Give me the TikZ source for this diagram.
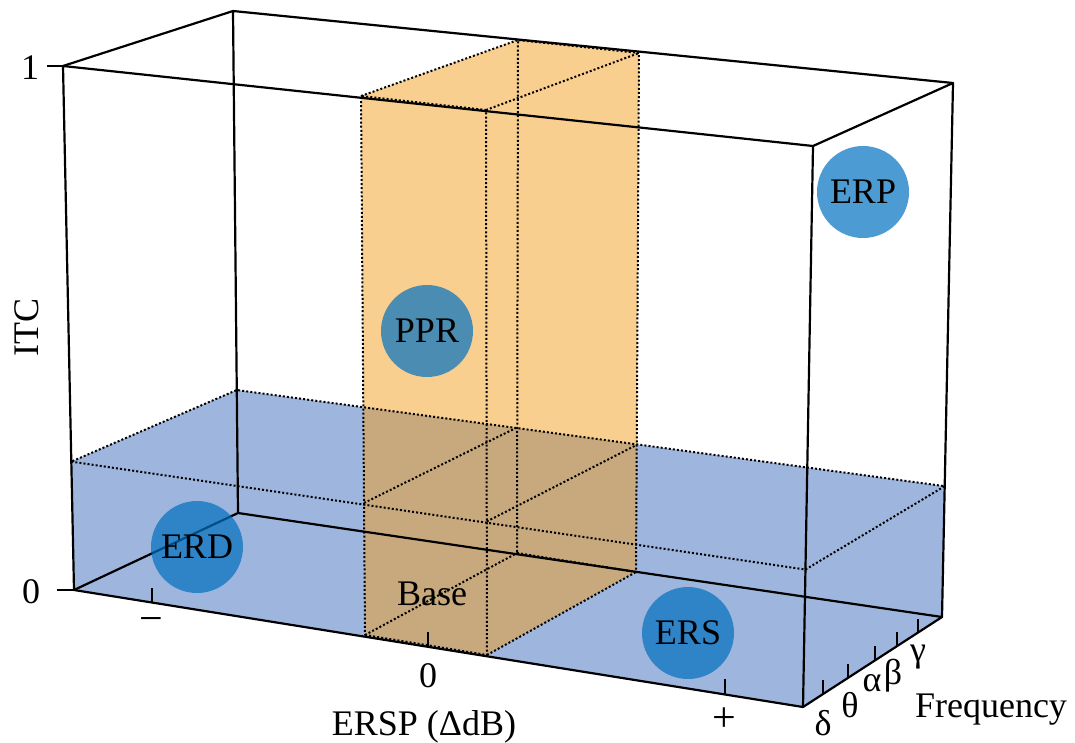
\documentclass[tikz,border=0pt]{standalone}
\usepackage{fontspec}
\setmainfont{Liberation Serif}
\usetikzlibrary{calc}
\definecolor{planeblue}{RGB}{158,181,221}
\definecolor{slaborange}{RGB}{243,159,33}
\definecolor{blobblue}{RGB}{0,112,192}
\tikzset{
  edge/.style={line width=2.2pt, line cap=round, line join=round},
  dots/.style={line width=2pt, dash pattern=on 2pt off 2.1pt},
  tickmark/.style={line width=2.2pt},
  lbl/.style={inner sep=0pt, font=\fontsize{36}{43}\selectfont},
  signlbl/.style={inner sep=0pt, font=\fontsize{42}{48}\selectfont},
  blob/.style={circle, fill=blobblue, fill opacity=0.7, text opacity=1,
    minimum size=92pt, inner sep=0pt, font=\fontsize{36}{43}\selectfont},
}
\begin{document}
\begin{tikzpicture}[x=1pt,y=-1pt]
\useasboundingbox (0,0) rectangle (1075,742);

% corners of the outer box
\coordinate (A) at (74,590);   % front bottom left
\coordinate (B) at (803,707);  % front bottom right
\coordinate (C) at (813,146);  % front top right
\coordinate (D) at (63,66);    % front top left
\coordinate (E) at (238,513);  % back bottom left
\coordinate (F) at (942,617);  % back bottom right
\coordinate (G) at (953,83);   % back top right
\coordinate (H) at (233,11);   % back top left

% top face of the low-ITC layer
\coordinate (P1) at ($(A)!0.245!(D)$);
\coordinate (P2) at ($(B)!0.245!(C)$);
\coordinate (P3) at ($(F)!0.245!(G)$);
\coordinate (P4) at ($(E)!0.245!(H)$);

% corners of the baseline slab around ERSP = 0
\coordinate (SA) at (365,635);
\coordinate (SB) at (487,655);
\coordinate (SC) at (486,110);
\coordinate (SD) at (361,96);
\coordinate (SE) at (517,553);
\coordinate (SF) at (636,572);
\coordinate (SG) at (639,53);
\coordinate (SH) at (518,40);
\coordinate (Q1) at ($(SA)!0.245!(SD)$);
\coordinate (Q2) at ($(SE)!0.245!(SH)$);
\coordinate (Q3) at ($(SB)!0.245!(SC)$);
\coordinate (Q4) at ($(SF)!0.245!(SG)$);

% fills
\fill[planeblue] (A) -- (P1) -- (P4) -- (P3) -- (F) -- (B) -- cycle;
\fill[slaborange, fill opacity=0.5] (SD) -- (SH) -- (SG) -- (SF) -- (SB) -- (SA) -- cycle;

% outer box
\draw[edge] (A) -- (B) -- (C) -- (D) -- cycle;
\draw[edge] (E) -- (F) -- (G) -- (H) -- cycle;
\draw[edge] (A) -- (E) (B) -- (F) (C) -- (G) (D) -- (H);

% dotted layer and slab
\draw[dots] (P1) -- (P2) -- (P3) -- (P4) -- cycle;
\draw[dots] (SA) -- (SB) -- (SC) -- (SD) -- cycle;
\draw[dots] (SE) -- (SF) -- (SG) -- (SH) -- cycle;
\draw[dots] (SA) -- (SE) (SB) -- (SF) (SC) -- (SG) (SD) -- (SH);
\draw[dots] (Q1) -- (Q2) (Q3) -- (Q4);

% ITC ticks
\draw[tickmark] (D) -- ++(-16,0);
\draw[tickmark] (A) -- ++(-17,0);
% ERSP ticks
\coordinate (xm) at ($(A)!0.107!(B)$);
\coordinate (xz) at ($(A)!0.486!(B)$);
\coordinate (xp) at ($(A)!0.893!(B)$);
\foreach \t in {xm,xz,xp} \draw[tickmark] (\t) -- ++(0,-15);
% frequency ticks
\foreach \f/\n in {0.144/f1,0.324/f2,0.518/f3,0.676/f4,0.827/f5}{
  \coordinate (\n) at ($(B)!\f!(F)$);
  \draw[tickmark] (\n) -- ++(0,-14);
}

% axis labels
\node[lbl, anchor=base] (one) at (30,79) {1};
\node[lbl, anchor=base] (zeroy) at (31,603) {0};
\node[lbl, rotate=90] (itc) at (27,327) {ITC};
\node[signlbl] (minus) at (151,625) {−};
\node[lbl, anchor=base] (zerox) at (428,687) {0};
\node[signlbl] (plus) at (724,720) {+};
\node[lbl, anchor=base] (ersp) at (424,735) {ERSP (ΔdB)};
\node[lbl, anchor=base] (base) at (432,605) {Base};
\node[lbl, anchor=base] (freq) at (991,717) {Frequency};
\node[lbl, anchor=base] (delta) at (823,735) {δ};
\node[lbl, anchor=base] (theta) at (850,717) {θ};
\node[lbl, anchor=base] (alpha) at (872,691) {α};
\node[lbl, anchor=base] (beta) at (893,684) {β};
\node[lbl, anchor=base] (gamma) at (918,661) {γ};

% response types
\node[blob] (erd) at (197,547) {ERD};
\node[blob] (ers) at (688,633) {ERS};
\node[blob] (ppr) at (427,331) {PPR};
\node[blob] (erp) at (863,192) {ERP};
\end{tikzpicture}
\end{document}
